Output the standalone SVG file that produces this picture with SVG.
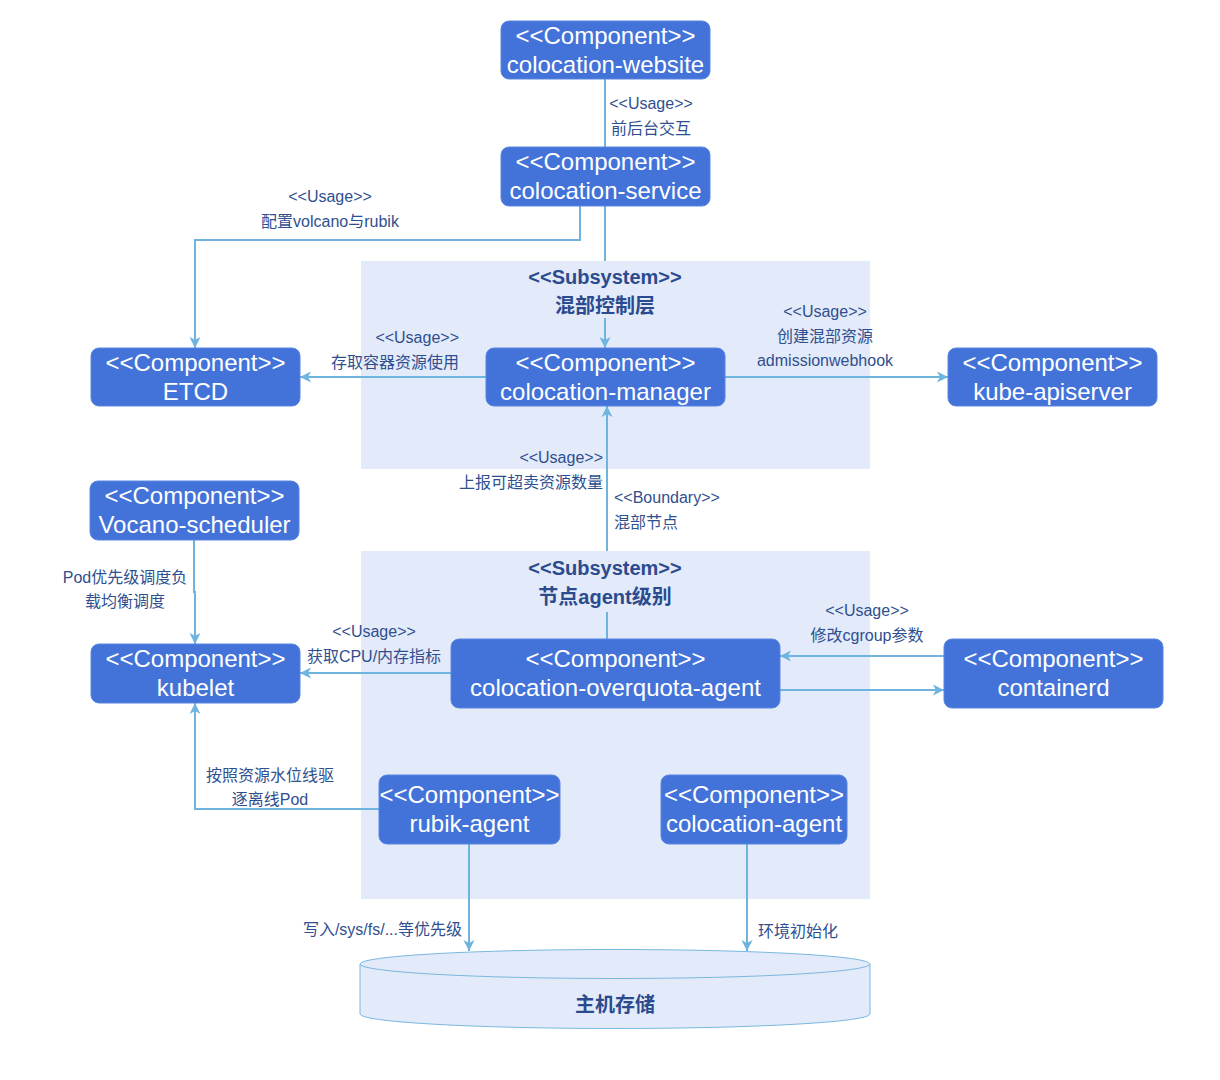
<svg xmlns="http://www.w3.org/2000/svg" width="1220" height="1080" viewBox="0 0 1220 1080">
<defs>
<style>
.node{fill:#4373d8;stroke:#5a86e0;stroke-width:1}
.nt{font-family:"Liberation Sans","Noto Sans CJK SC",sans-serif;font-size:24px;fill:#ffffff;text-anchor:middle}
.sub{fill:#e3eaf9}
.st{font-family:"Liberation Sans","Noto Sans CJK SC",sans-serif;font-size:20px;font-weight:bold;fill:#2b4b8e;text-anchor:middle}
.lb{font-family:"Liberation Sans","Noto Sans CJK SC",sans-serif;font-size:16px;fill:#2f4f8f}
.c{text-anchor:middle}.e{text-anchor:end}.s{text-anchor:start}
.edge{fill:none;stroke:#6fb3df;stroke-width:2}
</style>
<marker id="arr" markerUnits="userSpaceOnUse" markerWidth="13" markerHeight="13" refX="12" refY="6.5" orient="auto">
<path d="M1,1 L12,6.5 L1,12 L4,6.5 Z" fill="#6fb3df"/>
</marker>
</defs>
<rect width="1220" height="1080" fill="#ffffff"/>

<g id="subsystem-control">
<rect class="sub" x="361" y="261" width="509" height="208"/>
<text class="st" x="605" y="284">&lt;&lt;Subsystem&gt;&gt;</text>
<text class="st" x="605" y="313">混部控制层</text>
</g>
<g id="subsystem-node">
<rect class="sub" x="361" y="551" width="509" height="348"/>
<text class="st" x="605" y="575">&lt;&lt;Subsystem&gt;&gt;</text>
<text class="st" x="605" y="604">节点agent级别</text>
</g>

<g id="connectors">
<path class="edge" d="M605,79 V147"/>
<path class="edge" d="M580,206 V240 H195 V348" marker-end="url(#arr)"/>
<path class="edge" d="M605,206 V261"/>
<path class="edge" d="M605,318 V348" marker-end="url(#arr)"/>
<path class="edge" d="M486,377 H300" marker-end="url(#arr)"/>
<path class="edge" d="M725,377 H948" marker-end="url(#arr)"/>
<path class="edge" d="M607,639 V612"/>
<path class="edge" d="M607,551 V406" marker-end="url(#arr)"/>
<path class="edge" d="M194,540 V592 H195 V644" marker-end="url(#arr)"/>
<path class="edge" d="M451,673 H300" marker-end="url(#arr)"/>
<path class="edge" d="M944,656 H780" marker-end="url(#arr)"/>
<path class="edge" d="M780,690 H944" marker-end="url(#arr)"/>
<path class="edge" d="M379,809 H195 V703" marker-end="url(#arr)"/>
<path class="edge" d="M469,844 V951" marker-end="url(#arr)"/>
<path class="edge" d="M747,844 V951" marker-end="url(#arr)"/>
</g>

<g id="labels">
<text class="lb c" x="651" y="109">&lt;&lt;Usage&gt;&gt;</text>
<text class="lb c" x="651" y="134">前后台交互</text>
<text class="lb c" x="330" y="202">&lt;&lt;Usage&gt;&gt;</text>
<text class="lb c" x="330" y="227">配置volcano与rubik</text>
<text class="lb e" x="459" y="343">&lt;&lt;Usage&gt;&gt;</text>
<text class="lb e" x="459" y="368">存取容器资源使用</text>
<text class="lb c" x="825" y="317">&lt;&lt;Usage&gt;&gt;</text>
<text class="lb c" x="825" y="342">创建混部资源</text>
<text class="lb c" x="825" y="366">admissionwebhook</text>
<text class="lb e" x="603" y="463">&lt;&lt;Usage&gt;&gt;</text>
<text class="lb e" x="603" y="488">上报可超卖资源数量</text>
<text class="lb s" x="614" y="503">&lt;&lt;Boundary&gt;&gt;</text>
<text class="lb s" x="614" y="528">混部节点</text>
<text class="lb c" x="125" y="583">Pod优先级调度负</text>
<text class="lb c" x="125" y="607">载均衡调度</text>
<text class="lb c" x="374" y="637">&lt;&lt;Usage&gt;&gt;</text>
<text class="lb c" x="374" y="662">获取CPU/内存指标</text>
<text class="lb c" x="867" y="616">&lt;&lt;Usage&gt;&gt;</text>
<text class="lb c" x="867" y="641">修改cgroup参数</text>
<text class="lb c" x="270" y="781">按照资源水位线驱</text>
<text class="lb c" x="270" y="805">逐离线Pod</text>
<text class="lb e" x="462" y="935">写入/sys/fs/...等优先级</text>
<text class="lb s" x="758" y="937">环境初始化</text>
</g>

<g id="colocation-website">
<rect class="node" x="501" y="21" width="209" height="58" rx="8"/>
<text class="nt" x="605.5" y="43.5">&lt;&lt;Component&gt;&gt;</text>
<text class="nt" x="605.5" y="72.5">colocation-website</text>
</g>
<g id="colocation-service">
<rect class="node" x="501" y="147" width="209" height="59" rx="8"/>
<text class="nt" x="605.5" y="169.5">&lt;&lt;Component&gt;&gt;</text>
<text class="nt" x="605.5" y="198.5">colocation-service</text>
</g>
<g id="etcd">
<rect class="node" x="91" y="348" width="209" height="58" rx="8"/>
<text class="nt" x="195.5" y="370.5">&lt;&lt;Component&gt;&gt;</text>
<text class="nt" x="195.5" y="399.5">ETCD</text>
</g>
<g id="colocation-manager">
<rect class="node" x="486" y="348" width="239" height="58" rx="8"/>
<text class="nt" x="605.5" y="370.5">&lt;&lt;Component&gt;&gt;</text>
<text class="nt" x="605.5" y="399.5">colocation-manager</text>
</g>
<g id="kube-apiserver">
<rect class="node" x="948" y="348" width="209" height="58" rx="8"/>
<text class="nt" x="1052.5" y="370.5">&lt;&lt;Component&gt;&gt;</text>
<text class="nt" x="1052.5" y="399.5">kube-apiserver</text>
</g>
<g id="vocano-scheduler">
<rect class="node" x="90" y="481" width="209" height="59" rx="8"/>
<text class="nt" x="194.5" y="503.5">&lt;&lt;Component&gt;&gt;</text>
<text class="nt" x="194.5" y="532.5">Vocano-scheduler</text>
</g>
<g id="kubelet">
<rect class="node" x="91" y="644" width="209" height="59" rx="8"/>
<text class="nt" x="195.5" y="666.5">&lt;&lt;Component&gt;&gt;</text>
<text class="nt" x="195.5" y="695.5">kubelet</text>
</g>
<g id="colocation-overquota-agent">
<rect class="node" x="451" y="639" width="329" height="69" rx="8"/>
<text class="nt" x="615.5" y="666.5">&lt;&lt;Component&gt;&gt;</text>
<text class="nt" x="615.5" y="695.5">colocation-overquota-agent</text>
</g>
<g id="containerd">
<rect class="node" x="944" y="639" width="219" height="69" rx="8"/>
<text class="nt" x="1053.5" y="666.5">&lt;&lt;Component&gt;&gt;</text>
<text class="nt" x="1053.5" y="695.5">containerd</text>
</g>
<g id="rubik-agent">
<rect class="node" x="379" y="775" width="181" height="69" rx="8"/>
<text class="nt" x="469.5" y="802.5">&lt;&lt;Component&gt;&gt;</text>
<text class="nt" x="469.5" y="831.5">rubik-agent</text>
</g>
<g id="colocation-agent">
<rect class="node" x="661" y="775" width="186" height="69" rx="8"/>
<text class="nt" x="754" y="802.5">&lt;&lt;Component&gt;&gt;</text>
<text class="nt" x="754" y="831.5">colocation-agent</text>
</g>
<g id="host-storage">
<path d="M360,964 A255,14.5 0 0 1 870,964 V1014 A255,14.5 0 0 1 360,1014 Z" fill="#e3eaf9" stroke="#7ab8e0" stroke-width="1"/>
<path d="M360,964 A255,14.5 0 0 0 870,964" fill="none" stroke="#7ab8e0" stroke-width="1"/>
<text class="st" x="615" y="1012">主机存储</text>
</g>
</svg>
